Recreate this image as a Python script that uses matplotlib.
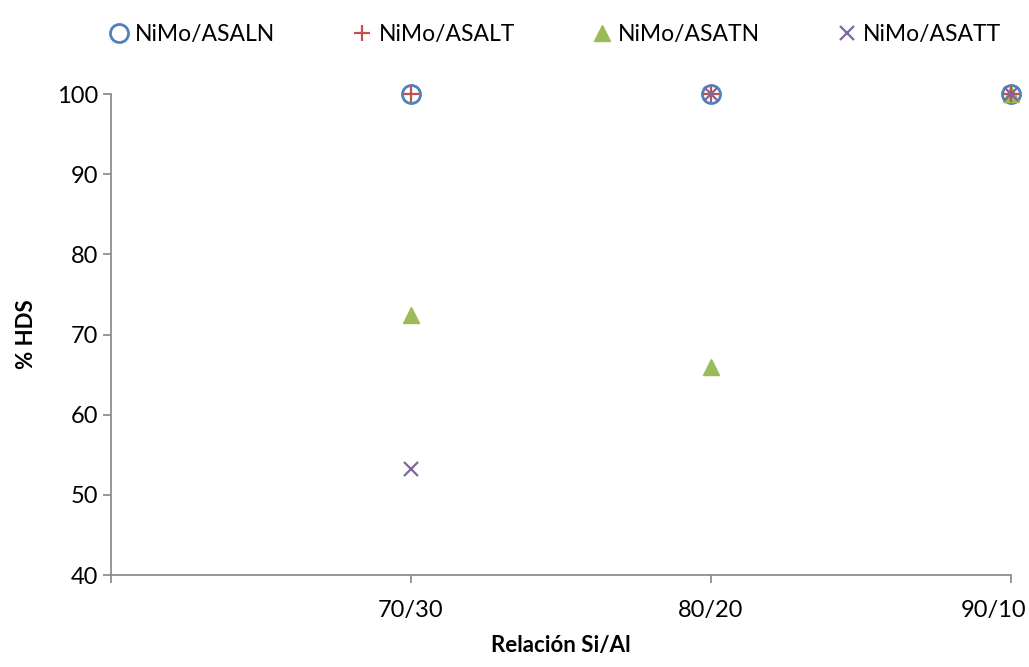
import matplotlib.pyplot as plt
from matplotlib.transforms import ScaledTranslation

plt.rcParams['font.family'] = ['Lato', 'DejaVu Sans']

# datos de %HDS por relación Si/Al
categorias = ["70/30", "80/20", "90/10"]
asaln = [100, 100, 100]
asalt = [100, 100, 100]
asatn = [72.4, 65.9, 100]
asatt = [53.2, 100, 100]

gris = "#868686"
fig = plt.figure(figsize=(10.29, 6.67), dpi=100)
ax = fig.add_axes([0.1079, 0.1379, 0.8746, 0.7211])

x = [1, 2, 3]
ax.plot(x, asaln, ls="none", marker="o", ms=13, mfc="none", mec="#4F81BD", mew=2,
        label="NiMo/ASALN", clip_on=False, zorder=3)
ax.plot(x, asalt, ls="none", marker="+", ms=12, mec="#C0504D", mew=1.6,
        label="NiMo/ASALT", clip_on=False, zorder=4)
ax.plot(x, asatn, ls="none", marker="^", ms=11, mfc="#9BBB59", mec="#9BBB59",
        label="NiMo/ASATN", clip_on=False, zorder=3)
ax.plot(x, asatt, ls="none", marker="x", ms=10, mec="#8064A2", mew=1.6,
        label="NiMo/ASATT", clip_on=False, zorder=5)

ax.set_xlim(0, 3)
ax.set_ylim(40, 100)
ax.set_yticks(range(40, 101, 10))
ax.set_xticks([0, 1, 2, 3])
ax.set_xticklabels([""] + categorias)

for s in ["top", "right"]:
    ax.spines[s].set_visible(False)
for s in ["left", "bottom"]:
    ax.spines[s].set_color(gris)
    ax.spines[s].set_linewidth(1.2)
ax.tick_params(axis="both", colors=gris, labelcolor="black", labelsize=17,
               length=6, width=1.2)
ax.tick_params(axis="x", pad=12)

# la última etiqueta se corre un poco para que no se corte en el borde
ultima = ax.get_xticklabels()[-1]
ultima.set_transform(ultima.get_transform() + ScaledTranslation(-0.17, 0, fig.dpi_scale_trans))

ax.set_xlabel("Relación Si/Al", fontsize=16, fontweight="bold", labelpad=10)
ax.set_ylabel("% HDS", fontsize=16, fontweight="bold", labelpad=14)

fig.legend(loc="upper center", bbox_to_anchor=(0.54, 0.995), ncol=4, frameon=False,
           fontsize=16.5, handlelength=0.8, handletextpad=0.3, columnspacing=3.4)

fig.savefig("out.png", dpi=100)
